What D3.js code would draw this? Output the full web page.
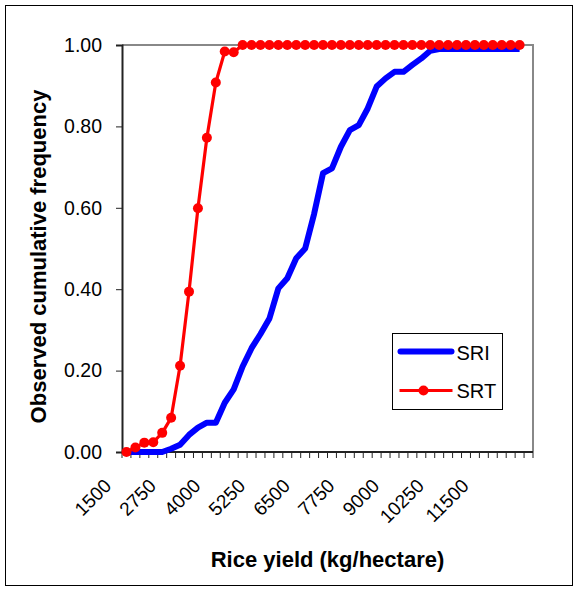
<!DOCTYPE html>
<html lang="en">
<head>
<meta charset="UTF-8">
<title>Cumulative frequency of rice yield</title>
<script src="https://cdnjs.cloudflare.com/ajax/libs/d3/7.8.5/d3.min.js"></script>
<style>
  body { margin: 0; background: #fff; }
  text { font-family: "Liberation Sans", Arial, sans-serif; fill: #000; }
</style>
</head>
<body>
<svg id="chart" width="579" height="595"></svg>
<script>
// yield categories, 250 kg steps (last one has no data)
const categories = d3.range(46).map(i => 1500 + i * 250);
const tickLabels = ['1500', '2750', '4000', '5250', '6500', '7750', '9000', '10250', '11500'];
const yTicks = [0, 0.2, 0.4, 0.6, 0.8, 1.0];

const sri = [0, 0, 0, 0, 0, 0.008, 0.018, 0.042, 0.06, 0.072,
  0.072, 0.121, 0.154, 0.21, 0.255, 0.29, 0.328, 0.402, 0.427, 0.476,
  0.50, 0.585, 0.685, 0.697, 0.75, 0.791, 0.803, 0.844, 0.898, 0.918,
  0.934, 0.934, 0.951, 0.967, 0.986, 0.99, 0.99, 0.99, 0.99, 0.99,
  0.99, 0.99, 0.99, 0.99, 0.99];

const srt = [0, 0.011, 0.023, 0.024, 0.047, 0.084, 0.212, 0.394, 0.599, 0.772,
  0.908, 0.984, 0.982, 1, 1, 1, 1, 1, 1, 1,
  1, 1, 1, 1, 1, 1, 1, 1, 1, 1,
  1, 1, 1, 1, 1, 1, 1, 1, 1, 1,
  1, 1, 1, 1, 1];

const svg = d3.select('#chart');
const plot = { left: 122, right: 533, top: 45, bottom: 452 };

// outer border
svg.append('rect')
  .attr('x', 5.5).attr('y', 5.5)
  .attr('width', 567).attr('height', 580)
  .attr('fill', 'none').attr('stroke', '#000').attr('stroke-width', 1);

const x = d3.scaleBand()
  .domain(categories)
  .range([plot.left, plot.right])
  .paddingInner(0).paddingOuter(0);
const xc = i => x(categories[i]) + x.bandwidth() / 2;

const y = d3.scaleLinear().domain([0, 1]).range([plot.bottom, plot.top]);

// top and right frame in grey
svg.append('path')
  .attr('d', `M${plot.left},${plot.top}H${plot.right}V${plot.bottom}`)
  .attr('fill', 'none').attr('stroke', '#888').attr('stroke-width', 2);

// y axis
const yAxis = svg.append('g')
  .attr('transform', `translate(${plot.left},0)`)
  .call(d3.axisLeft(y).tickValues(yTicks).tickFormat(d3.format('.2f')).tickSize(6).tickPadding(14));
yAxis.select('.domain').attr('stroke', '#222').attr('stroke-width', 2);
yAxis.selectAll('.tick line').attr('stroke', '#222');
yAxis.selectAll('.tick text')
  .style('font-size', '19.5px')
  .attr('font-family', null);

// x axis: ticks between categories
const bounds = d3.range(categories.length + 1).map(k => plot.left + k * x.bandwidth());
const xAxis = svg.append('g');
xAxis.append('line')
  .attr('x1', plot.left).attr('x2', plot.right)
  .attr('y1', plot.bottom).attr('y2', plot.bottom)
  .attr('stroke', '#222').attr('stroke-width', 2);
xAxis.selectAll('line.tk')
  .data(bounds)
  .enter()
  .append('line')
  .attr('class', 'tk')
  .attr('x1', d => d).attr('x2', d => d)
  .attr('y1', plot.bottom).attr('y2', plot.bottom + 6)
  .attr('stroke', '#222').attr('stroke-width', 1);
xAxis.selectAll('text')
  .data(tickLabels)
  .enter()
  .append('text')
  .attr('transform', (d, i) => `translate(${xc(i * 5) - 14},${plot.bottom + 35}) rotate(-45)`)
  .attr('text-anchor', 'end')
  .style('font-size', '19px')
  .text(d => d);

// axis titles
svg.append('text')
  .attr('x', (plot.left + plot.right) / 2)
  .attr('y', 567)
  .attr('text-anchor', 'middle')
  .style('font-size', '22px').style('font-weight', 'bold')
  .text('Rice yield (kg/hectare)');

svg.append('text')
  .attr('transform', `translate(46,${(plot.top + plot.bottom) / 2 + 8}) rotate(-90)`)
  .attr('text-anchor', 'middle')
  .style('font-size', '22px').style('font-weight', 'bold')
  .text('Observed cumulative frequency');

// series
const line = d3.line()
  .x((d, i) => xc(i))
  .y(d => y(d));

svg.append('path')
  .datum(sri)
  .attr('d', line)
  .attr('fill', 'none')
  .attr('stroke', '#0000ff')
  .attr('stroke-width', 6)
  .attr('stroke-linejoin', 'round');

svg.append('path')
  .datum(srt)
  .attr('d', line)
  .attr('fill', 'none')
  .attr('stroke', '#ff0000')
  .attr('stroke-width', 3.2)
  .attr('stroke-linejoin', 'round');

svg.selectAll('circle.srt')
  .data(srt)
  .enter()
  .append('circle')
  .attr('class', 'srt')
  .attr('cx', (d, i) => xc(i))
  .attr('cy', d => y(d))
  .attr('r', 5)
  .attr('fill', '#ff0000');

// legend
const legend = svg.append('g').attr('transform', 'translate(392.5,333.5)');
legend.append('rect')
  .attr('width', 110).attr('height', 76)
  .attr('fill', '#fff').attr('stroke', '#000').attr('stroke-width', 1);
legend.append('line')
  .attr('x1', 8).attr('x2', 59).attr('y1', 18).attr('y2', 18)
  .attr('stroke', '#0000ff').attr('stroke-width', 6).attr('stroke-linecap', 'round');
legend.append('text')
  .attr('x', 64).attr('y', 26)
  .style('font-size', '20px')
  .text('SRI');
legend.append('line')
  .attr('x1', 7).attr('x2', 60).attr('y1', 57).attr('y2', 57)
  .attr('stroke', '#ff0000').attr('stroke-width', 3.2);
legend.append('circle')
  .attr('cx', 31).attr('cy', 57).attr('r', 5)
  .attr('fill', '#ff0000');
legend.append('text')
  .attr('x', 64).attr('y', 64)
  .style('font-size', '20px')
  .text('SRT');
</script>
</body>
</html>
